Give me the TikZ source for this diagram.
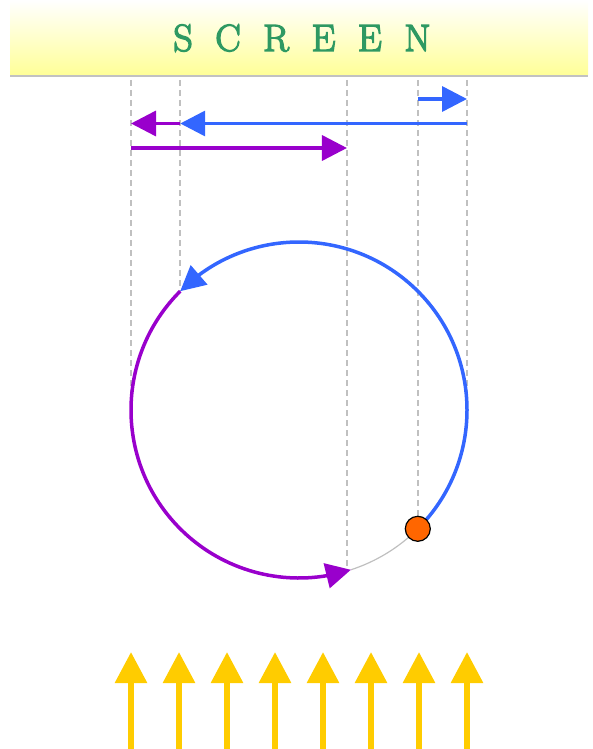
\documentclass[tikz,border=0pt]{standalone}
\usepackage{fontspec}
\newfontfamily\titlefont[FakeBold=3.5]{Latin Modern Roman}
\usetikzlibrary{arrows.meta,bending}
\definecolor{myblue}{RGB}{51,102,255}
\definecolor{mypurple}{RGB}{153,0,204}
\definecolor{mygreen}{RGB}{46,153,98}
\definecolor{myyellow}{RGB}{255,204,0}
\definecolor{myorange}{RGB}{255,102,0}
\definecolor{dashgray}{RGB}{192,192,192}
\begin{document}
\begin{tikzpicture}[x=1pt,y=1pt,
  headtip/.style={-{Triangle[length=25pt,width=25pt,flex]}},
  move/.style={line width=3.5pt, headtip},
  guide/.style={dashgray, line width=1.5pt, dash pattern=on 6pt off 4pt},
  ray/.style={myyellow, line width=6pt, -{Triangle[length=31pt,width=31pt]}},
  screenbar/.style={rectangle, inner sep=0pt, minimum width=578pt, minimum height=74pt,
    top color=white, bottom color=yellow!40, anchor=north west}]
\useasboundingbox (0,0) rectangle (593,-749);
% screen
\node[screenbar] (screen) at (10,0) {};
\draw[black!24, line width=2pt] (screen.south west) ++(0,-1.5) coordinate (sl) -- (sl -| screen.south east);
\node[anchor=base, text=mygreen, font=\titlefont\fontsize{38}{40}\selectfont] (title) at (302,-51) {\spaceskip=22.5pt S C R E E N};
% circle points
\coordinate (c) at (299,-410);
\path (c) ++(0:168) coordinate (p0);
\path (c) ++(135:168) coordinate (p135);
\path (c) ++(180:168) coordinate (p180);
\path (c) ++(-45:168) coordinate (pS);
\path (c) ++(-73.4:168) coordinate (pD);
\path (c) ++(-72:168) coordinate (pE);
% guides
\foreach \p in {p180,p135,pD,pS,p0}{
  \coordinate (g\p) at (\p |- 0,-80);
  \draw[guide] (g\p) -- (\p);
}
% gray remainder of the circle
\draw[black!25, line width=1.2pt] (pE) arc[start angle=-72, end angle=-45, radius=168];
% arcs
\draw[myblue, move] (pS) arc[start angle=-45, end angle=135, radius=168];
\draw[mypurple, move] (p135) arc[start angle=135, end angle=288, radius=168];
% projections on the screen
\coordinate (b1s) at (pS |- 0,-99);
\coordinate (b1e) at (p0 |- 0,-99);
\coordinate (b2s) at (p0 |- 0,-123.5);
\coordinate (b2e) at (p135 |- 0,-123.5);
\coordinate (q1e) at (p180 |- 0,-123.5);
\coordinate (q2s) at (p180 |- 0,-148);
\coordinate (q2e) at (pD |- 0,-148);
\draw[myblue, move] (b1s) -- (b1e);
\draw[myblue, move] (b2s) -- (b2e);
\draw[mypurple, move] (b2e) -- (q1e);
\draw[mypurple, move] (q2s) -- (q2e);
% dot
\node[circle, fill=myorange, draw=black, line width=1.2pt, minimum size=25pt, inner sep=0pt] (dot) at (pS) {};
% light rays
\foreach \i in {0,...,7}{
  \coordinate (rs\i) at (131+48*\i,-749);
  \coordinate (re\i) at (131+48*\i,-652);
  \draw[ray] (rs\i) -- (re\i);
}
\end{tikzpicture}
\end{document}
